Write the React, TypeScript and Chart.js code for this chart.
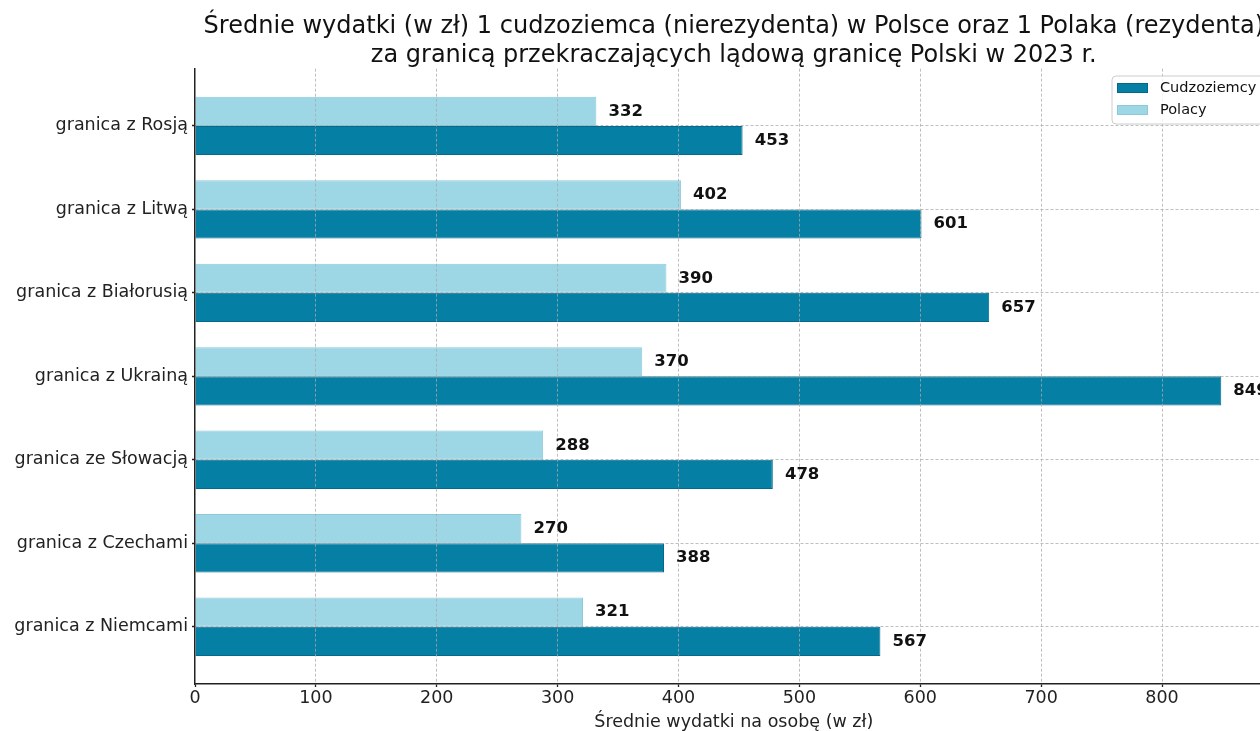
import React, { useEffect, useRef } from "react";
import { Chart, registerables } from "chart.js";

Chart.register(...registerables);

const categories = [
  "granica z Rosją",
  "granica z Litwą",
  "granica z Białorusią",
  "granica z Ukrainą",
  "granica ze Słowacją",
  "granica z Czechami",
  "granica z Niemcami",
];
const cudzoziemcy = [453, 601, 657, 849, 478, 388, 567];
const polacy = [332, 402, 390, 370, 288, 270, 321];
const xTicks = [0, 100, 200, 300, 400, 500, 600, 700, 800];
const titleLines = [
  "Średnie wydatki (w zł) 1 cudzoziemca (nierezydenta) w Polsce oraz 1 Polaka (rezydenta)",
  "za granicą przekraczających lądową granicę Polski w 2023 r.",
];
const xTitle = "Średnie wydatki na osobę (w zł)";
const seriesNames = ["Cudzoziemcy", "Polacy"];

const DARK = "#057fa3";
const DARK_EDGE = "#04698a";
const LIGHT = "#9dd6e5";
const LIGHT_EDGE = "#8cc9da";
const FONT = '"DejaVu Sans", sans-serif';
const GRID = "rgba(170,170,170,0.75)";
const AXIS = "#222";

const xMax = 849 * 1.05;

const overlayPlugin = {
  id: "overlay",
  afterDraw(chart: any) {
    const ctx = chart.ctx;
    const area = chart.chartArea;
    const xs = chart.scales.x;
    ctx.save();
    // title
    ctx.fillStyle = "#111";
    ctx.font = `24px ${FONT}`;
    ctx.textAlign = "center";
    ctx.textBaseline = "alphabetic";
    const cx = (area.left + area.right) / 2;
    ctx.fillText(titleLines[0], cx, 33);
    ctx.fillText(titleLines[1], cx, 62);

    // value labels
    ctx.font = `bold 16.5px ${FONT}`;
    ctx.textAlign = "left";
    ctx.textBaseline = "middle";
    ctx.fillStyle = "#111";
    chart.data.datasets.forEach((ds: any, di: number) => {
      const meta = chart.getDatasetMeta(di);
      meta.data.forEach((bar: any, i: number) => {
        const v = ds.data[i].x;
        ctx.fillText(String(v), xs.getPixelForValue(v + 10), bar.y);
      });
    });

    // legend
    const bx = 1112, by = 76, bw = 153, bh = 48, r = 4;
    ctx.beginPath();
    ctx.moveTo(bx + r, by);
    ctx.lineTo(bx + bw - r, by);
    ctx.arcTo(bx + bw, by, bx + bw, by + r, r);
    ctx.lineTo(bx + bw, by + bh - r);
    ctx.arcTo(bx + bw, by + bh, bx + bw - r, by + bh, r);
    ctx.lineTo(bx + r, by + bh);
    ctx.arcTo(bx, by + bh, bx, by + bh - r, r);
    ctx.lineTo(bx, by + r);
    ctx.arcTo(bx, by, bx + r, by, r);
    ctx.closePath();
    ctx.fillStyle = "rgba(255,255,255,0.8)";
    ctx.fill();
    ctx.strokeStyle = "#cccccc";
    ctx.lineWidth = 1;
    ctx.stroke();

    const items = [
      { label: seriesNames[0], fill: DARK, edge: DARK_EDGE, y: 88 },
      { label: seriesNames[1], fill: LIGHT, edge: LIGHT_EDGE, y: 110 },
    ];
    ctx.font = `14.5px ${FONT}`;
    ctx.textBaseline = "middle";
    items.forEach((it) => {
      ctx.fillStyle = it.fill;
      ctx.fillRect(1117, it.y - 5, 31, 10);
      ctx.strokeStyle = it.edge;
      ctx.strokeRect(1117.5, it.y - 4.5, 30, 9);
      ctx.fillStyle = "#111";
      ctx.fillText(it.label, 1160, it.y);
    });
    ctx.restore();
  },
};

export default function App() {
  const ref = useRef<HTMLCanvasElement | null>(null);

  useEffect(() => {
    if (!ref.current) return;
    const chart = new Chart(ref.current, {
      type: "bar",
      data: {
        datasets: [
          {
            label: seriesNames[1],
            data: polacy.map((v, i) => ({ x: v, y: i })),
            backgroundColor: LIGHT,
            borderColor: LIGHT_EDGE,
            borderWidth: 1,
            categoryPercentage: 0.7,
            barPercentage: 1.0,
          },
          {
            label: seriesNames[0],
            data: cudzoziemcy.map((v, i) => ({ x: v, y: i })),
            backgroundColor: DARK,
            borderColor: DARK_EDGE,
            borderWidth: 1,
            categoryPercentage: 0.7,
            barPercentage: 1.0,
          },
        ],
      } as any,
      options: {
        indexAxis: "y",
        animation: false,
        responsive: false,
        devicePixelRatio: 1,
        layout: { padding: { top: 68.7, right: 1330 - 1272.6, left: 0, bottom: 0 } },
        plugins: {
          legend: { display: false },
          title: { display: false },
          tooltip: { enabled: false },
        },
        scales: {
          x: {
            type: "linear",
            min: 0,
            max: xMax,
            offset: false,
            afterBuildTicks: (scale: any) => {
              scale.ticks = xTicks.map((v) => ({ value: v }));
            },
            afterFit: (scale: any) => {
              scale.height = 760 - 684;
            },
            ticks: {
              color: AXIS,
              font: { family: FONT, size: 17.5 },
              padding: 1,
              maxRotation: 0,
              autoSkip: false,
            },
            grid: {
              offset: false,
              color: (c: any) => (c.tick && c.tick.value === 0 ? "rgba(0,0,0,0)" : GRID),
              lineWidth: 1,
              tickColor: AXIS,
              tickLength: 3,
              tickWidth: 1.3,
              tickBorderDash: [],
              z: 1,
            } as any,
            border: { display: true, color: AXIS, width: 1.5, dash: [3, 2], z: 2 } as any,
            title: {
              display: true,
              text: xTitle,
              color: AXIS,
              font: { family: FONT, size: 17.5 },
              padding: { top: 0, bottom: 27 },
            },
          },
          y: {
            type: "linear",
            reverse: true,
            min: -0.685,
            max: 6.685,
            offset: false,
            afterBuildTicks: (scale: any) => {
              scale.ticks = categories.map((_, i) => ({ value: i }));
            },
            afterFit: (scale: any) => {
              scale.width = 195;
            },
            ticks: {
              color: AXIS,
              font: { family: FONT, size: 17.5 },
              padding: 4,
              autoSkip: false,
              callback: (v: any) => categories[Math.round(Number(v))] ?? "",
            },
            grid: {
              offset: false,
              color: GRID,
              lineWidth: 1,
              tickColor: AXIS,
              tickLength: 3,
              tickWidth: 1.3,
              tickBorderDash: [],
              z: 1,
            } as any,
            border: { display: true, color: AXIS, width: 1.5, dash: [3, 2], z: 2 } as any,
          },
        },
      } as any,
      plugins: [overlayPlugin],
    });
    return () => chart.destroy();
  }, []);

  return (
    <div
      style={{
        position: "fixed",
        left: 0,
        top: 0,
        width: 1260,
        height: 731,
        overflow: "hidden",
        background: "#fff",
      }}
    >
      <canvas ref={ref} width={1330} height={760} style={{ display: "block" }} />
    </div>
  );
}
